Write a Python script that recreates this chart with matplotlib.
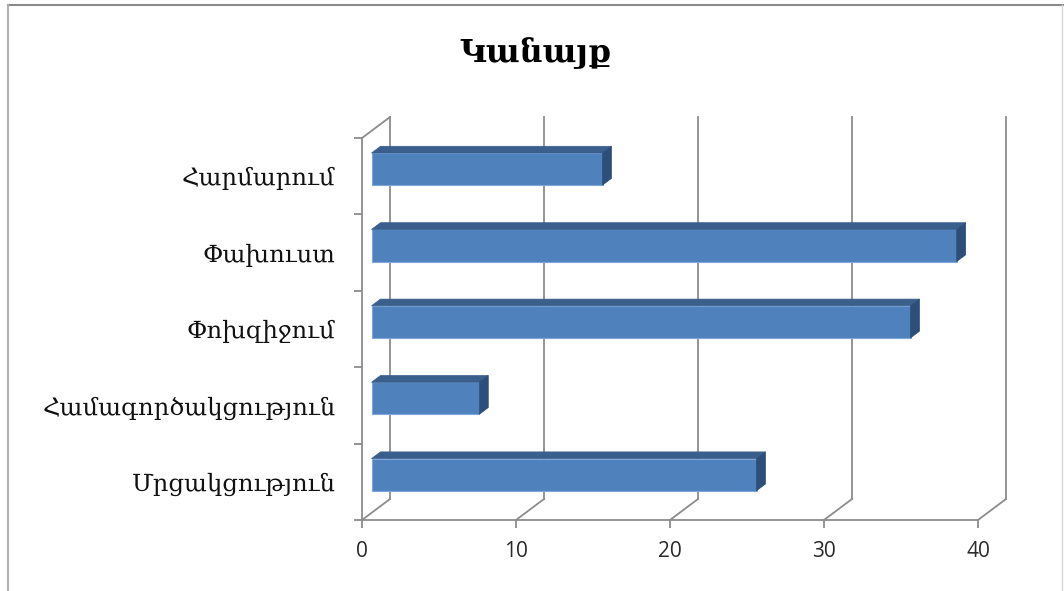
import matplotlib.pyplot as plt
from matplotlib.patches import Polygon
from matplotlib.lines import Line2D
import numpy as np

# categories listed bottom to top, as on the axis
categories = ["Մրցակցություն", "Համագործակցություն", "Փոխզիջում", "Փախուստ", "Հարմարում"]
values = [25, 7, 35, 38, 15]
x_ticks = [0, 10, 20, 30, 40]
title = "Կանայք"

# pixel scale of the plot area and the oblique depth of the 3D walls
W, H = 1064, 591
px_x, px_y = 15.4, 76.4          # pixels per value unit / per category
x0_px, y0_px = 362, 520          # where (0, 0) of the front plane sits
DX, DY = 28 / px_x, 21 / px_y    # full depth offset in data units
f0, f1 = 0.34, 0.66              # bar depth range (fraction of full depth)
half_h = 0.21

xlim = (-1.5, 43)
ylim = (-0.4, 5.5)

grid_col = "#8c8c8c"
front_col = "#4f81bd"
top_col = "#3a5f8c"
side_col = "#2d4e78"

fig = plt.figure(figsize=(W / 100, H / 100), dpi=100)
left = (x0_px + xlim[0] * px_x) / W
bottom = (H - (y0_px - ylim[0] * px_y)) / H
ax = fig.add_axes([left, bottom,
                   (xlim[1] - xlim[0]) * px_x / W,
                   (ylim[1] - ylim[0]) * px_y / H])
ax.set_xlim(*xlim)
ax.set_ylim(*ylim)
ax.patch.set_visible(False)

n = len(categories)

# back wall gridlines and left wall back edge
for x in x_ticks:
    ax.plot([x + DX, x + DX], [DY, n + DY], color=grid_col, lw=1.3, zorder=1)
    # floor diagonals
    ax.plot([x, x + DX], [0, DY], color=grid_col, lw=1.3, zorder=1)
ax.plot([0, DX], [n, n + DY], color=grid_col, lw=1.3, zorder=1)


def pt(x, y, f):
    return (x + f * DX, y + f * DY)


for i, v in enumerate(values):
    y_lo = i + 0.5 - half_h
    y_hi = i + 0.5 + half_h
    ax.barh(i + 0.5 + f0 * DY, v, height=2 * half_h, left=f0 * DX,
            color=front_col, edgecolor="#7ea6d8", linewidth=0.8, zorder=3)
    top = [pt(0, y_hi, f0), pt(v, y_hi, f0), pt(v, y_hi, f1), pt(0, y_hi, f1)]
    side = [pt(v, y_lo, f0), pt(v, y_hi, f0), pt(v, y_hi, f1), pt(v, y_lo, f1)]
    ax.add_patch(Polygon(top, closed=True, facecolor=top_col, edgecolor=top_col,
                         lw=0.5, zorder=3))
    ax.add_patch(Polygon(side, closed=True, facecolor=side_col, edgecolor=side_col,
                         lw=0.5, zorder=3))

# front axes
for s in ["top", "right"]:
    ax.spines[s].set_visible(False)
ax.spines["left"].set_position(("data", 0))
ax.spines["bottom"].set_position(("data", 0))
ax.spines["left"].set_bounds(0, n)
ax.spines["bottom"].set_bounds(x_ticks[0], x_ticks[-1])
for s in ["left", "bottom"]:
    ax.spines[s].set_color(grid_col)
    ax.spines[s].set_linewidth(1.3)
    ax.spines[s].set_zorder(2)

ax.set_xticks(x_ticks)
ax.set_xticklabels([str(t) for t in x_ticks], fontsize=15, family="Open Sans",
                   color="#2a2a2a")
ax.tick_params(axis="x", direction="out", length=6, width=1.3, color=grid_col, pad=9)

ax.set_yticks(np.arange(n + 1))
ax.set_yticklabels([])
ax.tick_params(axis="y", which="major", direction="out", length=6, width=1.3,
               color=grid_col)
ax.set_yticks(np.arange(n) + 0.5, minor=True)
ax.set_yticklabels(categories, minor=True, fontsize=17.5, family="DejaVu Serif",
                   color="#111111")
ax.tick_params(axis="y", which="minor", length=0, pad=19)

fig.text(536 / W, 1 - 53 / H, title, ha="center", va="center",
         fontsize=23, fontweight="bold", family="DejaVu Serif")

# chart area border
fig.add_artist(Line2D([8 / W, 1], [1 - 5 / H, 1 - 5 / H], color="#8a8a8a", lw=1.5))
fig.add_artist(Line2D([8 / W, 8 / W], [0, 1 - 5 / H], color="#b0b0b0", lw=1.5))
fig.add_artist(Line2D([1062 / W, 1062 / W], [0, 1 - 5 / H], color="#d8d8d8", lw=1))

fig.savefig("out.png", dpi=100)
